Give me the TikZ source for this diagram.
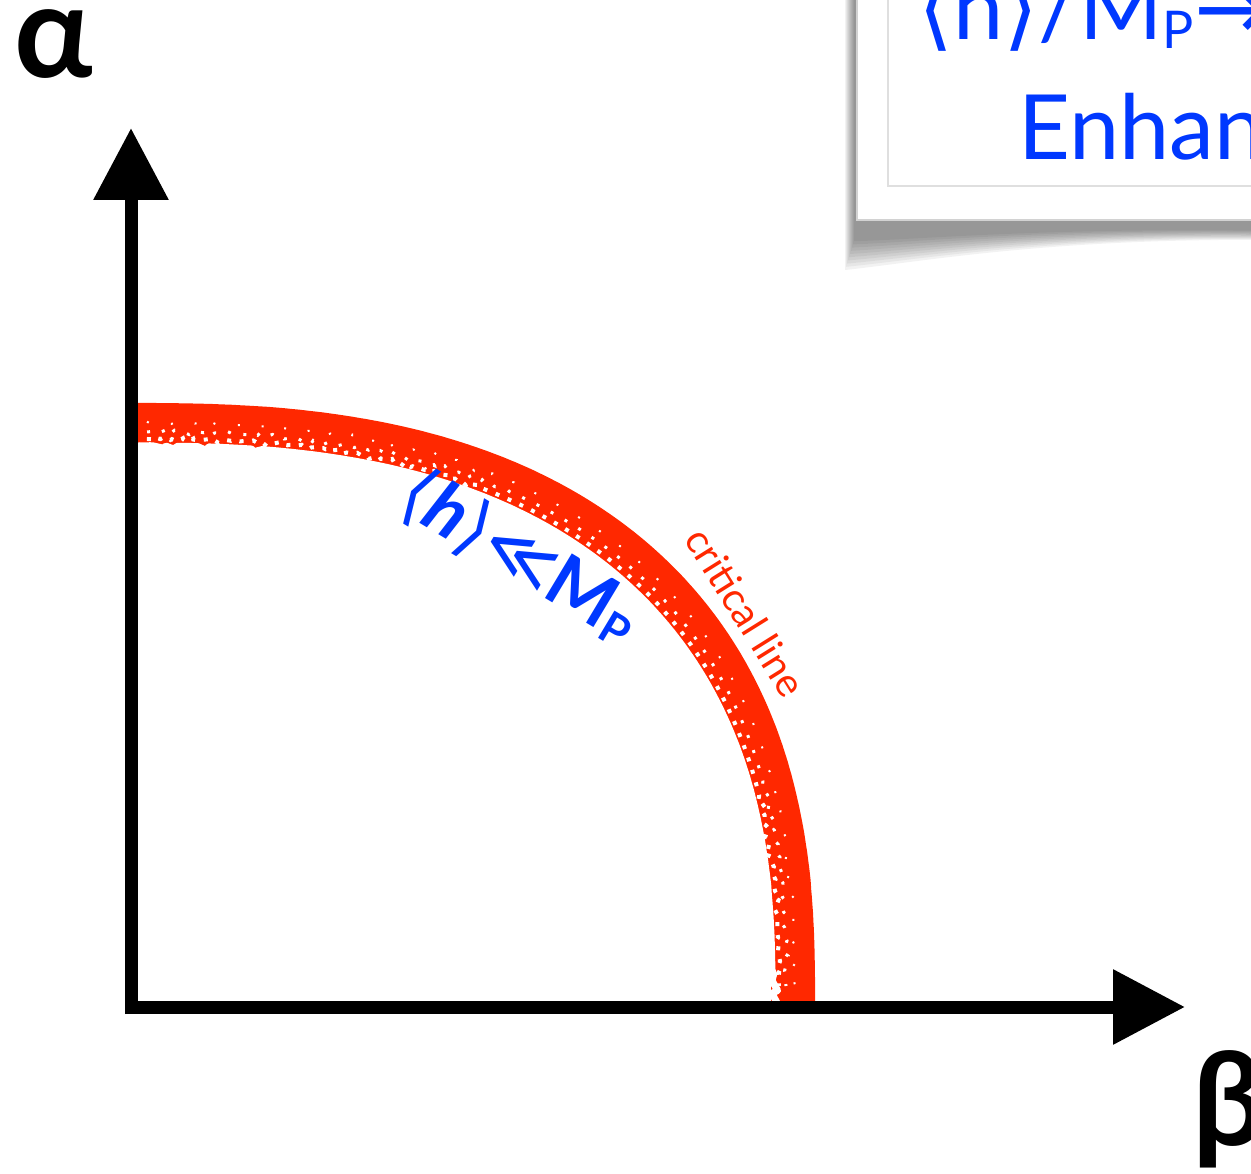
\documentclass[tikz,border=0pt]{standalone}
\usepackage{fontspec}
\setmainfont{Lato}
\newfontfamily\dvs{DejaVu Sans}
\usetikzlibrary{arrows.meta,decorations.pathmorphing}
\definecolor{critred}{RGB}{255,40,0}
\definecolor{hblue}{RGB}{0,56,255}
\begin{document}
\begin{tikzpicture}[x=1pt,y=-1pt,
  axisline/.style={line width=13pt,-{Triangle[length=72pt,width=72pt]}},
  band/.style={critred,line width=44pt},
  grit/.style={white,decorate,decoration={random steps,segment length=7pt,amplitude=7pt}},
  speck/.style={white,decorate,decoration={random steps,segment length=4pt,amplitude=3pt}},
  boxtext/.style={hblue,inner sep=0pt,font=\fontsize{90}{100}\selectfont},
  greek/.style={inner sep=0pt,font=\fontsize{130}{130}\selectfont\bfseries}]
\pgfmathsetseed{11}
\useasboundingbox (0,0) rectangle (1251,1174);
\clip (0,0) rectangle (1251,1174);
% shadow of the box
\foreach \i in {0,...,9}{
  \fill[black,opacity=0.05] (845+\i,-20) -- (1270,-20) -- (1270,{240-1.0*\i})
     .. controls (1050,{238-1.2*\i}) and (920,{262-2.5*\i}) .. (845+\i,{270-3.2*\i}) -- cycle;
}
% the box
\draw[fill=white,draw=gray!35,line width=1.5pt] (857,-20) rectangle (1270,220);
\draw[gray!25,line width=1.5pt] (888,-20) rectangle (1270,186);
\node[boxtext,anchor=base west] (t1) at (918,40)
  {{\dvs ⟨}h{\dvs ⟩}/M\raisebox{-0.09em}{\fontsize{52}{52}\selectfont P}{\dvs →}};
\node[boxtext,anchor=base west] (t2) at (1018,160) {Enhan};
% red critical band
\draw[band] (137,425) -- plot[domain=89.8:0.2,samples=150] ({131+662*pow(cos(\x),0.784)},{1000-575*pow(sin(\x),0.784)}) -- (793,1005);
\draw[grit,line width=7pt,line join=round] (137,445) -- plot[domain=89.8:0.2,samples=150] ({131+641*pow(cos(\x),0.784)},{1000-554*pow(sin(\x),0.784)}) -- (772,1005);
\draw[speck,line width=4pt,dash pattern=on 4pt off 9pt]
  plot[domain=89.5:0.5,samples=150] ({131+648*pow(cos(\x),0.784)},{1000-561*pow(sin(\x),0.784)});
\draw[speck,line width=3pt,dash pattern=on 3pt off 13pt]
  plot[domain=89.5:0.5,samples=150] ({131+655*pow(cos(\x),0.784)},{1000-568*pow(sin(\x),0.784)});
\draw[speck,line width=2pt,dash pattern=on 2pt off 23pt]
  plot[domain=89.5:0.5,samples=150] ({131+664*pow(cos(\x),0.784)},{1000-577*pow(sin(\x),0.784)});
% axes
\coordinate (ytip) at (131,128);
\coordinate (xtip) at (1185,1007);
\coordinate (Ob) at (131,1014);
\coordinate (Ol) at (125,1007);
\draw[axisline] (Ob) -- (ytip);
\draw[axisline] (Ol) -- (xtip);
% labels
\node[greek,anchor=base west] (alpha) at (14,78) {α};
\node[greek,anchor=base west] (beta) at (1192,1145) {β};
\node[hblue,inner sep=0pt,rotate=-31,font=\fontsize{72}{76}\selectfont\bfseries] (cond) at (520,557)
  {{\mdseries\dvs ⟨}{\itshape h}{\mdseries\dvs ⟩≪}M\raisebox{-0.09em}{\fontsize{44}{44}\selectfont\bfseries P}};
\node[critred,inner sep=0pt,rotate=-58,font=\fontsize{40}{44}\selectfont] (crit) at (746,612) {critical line};
\end{tikzpicture}
\end{document}
